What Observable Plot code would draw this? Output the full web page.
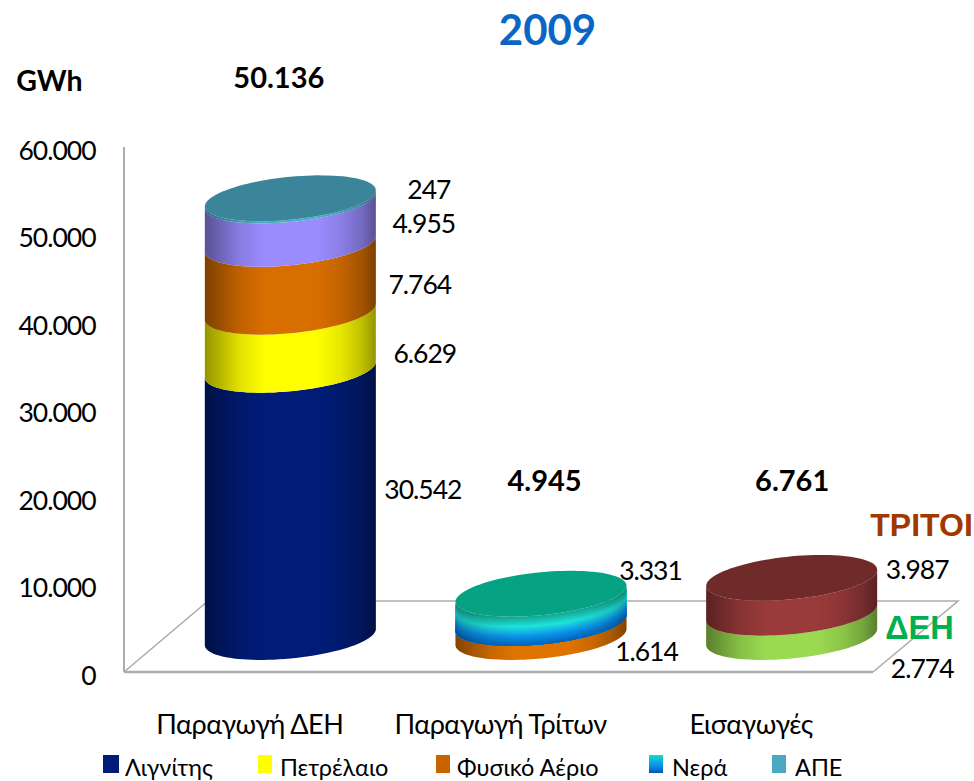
<!DOCTYPE html>
<html>
<head>
<meta charset="utf-8">
<script src="https://cdn.jsdelivr.net/npm/d3@7"></script>
<script src="https://cdn.jsdelivr.net/npm/@observablehq/plot@0.6"></script>
<style>
html,body{margin:0;padding:0;background:#fff;overflow:hidden;width:974px;height:781px}
#legend{position:absolute;left:0;top:0;width:974px;height:781px;font-family:Lato,"Open Sans",sans-serif;font-size:23.5px;color:#000;pointer-events:none}
#legend i{position:absolute;top:755px;height:18px;display:block}
#legend span{position:absolute;top:753px;white-space:nowrap}
svg{position:absolute;left:0;top:0;letter-spacing:-1px}
svg g[font-weight="bold"]{letter-spacing:0}
svg g[aria-label="x-axis tick label"]{letter-spacing:-.5px}
</style>
</head>
<body>
<div id="chart"></div>
<div id="legend"></div>
<script>
// ---- data ----
const categories = ["Παραγωγή ΔΕΗ", "Παραγωγή Τρίτων", "Εισαγωγές"];
const rowCategory = ["Παραγωγή ΔΕΗ","Παραγωγή ΔΕΗ","Παραγωγή ΔΕΗ","Παραγωγή ΔΕΗ","Παραγωγή ΔΕΗ","Παραγωγή Τρίτων","Παραγωγή Τρίτων","Εισαγωγές","Εισαγωγές"];
const rowSeries = ["Λιγνίτης","Πετρέλαιο","Φυσικό Αέριο","Νερά ΔΕΗ","ΑΠΕ","Φυσικό Αέριο Τρίτων","Νερά","ΔΕΗ","ΤΡΙΤΟΙ"];
const rowValues = [30542, 6629, 7764, 4955, 247, 1614, 3331, 2774, 3987];
const totals = [50136, 4945, 6761];
const yTicks = [0, 10000, 20000, 30000, 40000, 50000, 60000];
const legendNames = ["Λιγνίτης", "Πετρέλαιο", "Φυσικό Αέριο", "Νερά", "ΑΠΕ"];

// ---- styles ----
const seriesDomain = ["Λιγνίτης","Πετρέλαιο","Φυσικό Αέριο","Νερά ΔΕΗ","ΑΠΕ","Φυσικό Αέριο Τρίτων","Νερά","ΔΕΗ","ΤΡΙΤΟΙ"];
const seriesColors = ["#001c78","#ffff00","#d86e00","#9a8cff","#4aaec8","#e07400","#1fe3dc","#9ada50","#9a3a3a"];
const capColors = ["#3a8599","#06a284","#702a2a"];
const waterStops = ["#12a68f","#1fe3dc","#0a8fe8","#0064b8"];
const labelNudges = [[173,-48],[175,-22],[170,-28],[174,-33],[179,-44],[146,-13],[150,-72],[171,9],[166,-60]];
const totalNudges = [[29,-155],[44,-148],[41,-132]];

const rows = rowValues.map((value,i)=>({category:rowCategory[i],series:rowSeries[i],value}));
let acc = {};
rows.forEach(r=>{acc[r.category]=(acc[r.category]||0); r.mid=acc[r.category]+r.value/2; acc[r.category]+=r.value;});

const fmt = d3.format(",");
const num = d => fmt(d).replace(/,/g,".");

// cylinder geometry (pixels)
const SHIFT_X = 41, SHIFT_Y = -35, SHEAR = 8, MINOR = 21.5;
function arc(cx,cy,a,from,to,n=48){
  const p=[];
  for(let k=0;k<=n;k++){
    const t=from+(to-from)*k/n;
    p.push([cx+a*Math.cos(t), cy-SHEAR*Math.cos(t)+MINOR*Math.sin(t)]);
  }
  return p;
}
function pathOf(pts){return "M"+pts.map(p=>p[0].toFixed(2)+","+p[1].toFixed(2)).join("L")+"Z";}
function segment(cx,a,lower,upper){
  return pathOf([...arc(cx,upper,a,Math.PI,0),...arc(cx,lower,a,0,Math.PI)]);
}

function cylinders(index,scales,values){
  const g=d3.create("svg:g");
  const bw=scales.x.bandwidth(), a=bw/2;
  const defs=g.append("defs");
  const lg=defs.append("linearGradient").attr("id","shade");
  [[0,.42],[.08,.3],[.2,.12],[.35,0],[.65,0],[.8,.1],[.92,.25],[1,.42]].forEach(([o,v])=>
    lg.append("stop").attr("offset",o).attr("stop-color","#000").attr("stop-opacity",v));
  const waterColor=d3.scaleLinear().domain([0,.35,.7,1]).range(waterStops);
  const tops={};
  for(const i of index){
    const r=rows[i];
    const cx=scales.x(r.category)+a+SHIFT_X;
    const y1=values.y1[i]+SHIFT_Y, y2=values.y2[i]+SHIFT_Y;
    if(r.series==="Νερά"){
      const n=28;
      for(let k=0;k<n;k++){
        g.append("path").attr("d",segment(cx,a,y1,y2+(y1-y2)*k/n)).attr("fill",waterColor((k+.5)/n));
      }
    } else {
      g.append("path").attr("d",segment(cx,a,y1,y2)).attr("fill",values.fill[i]);
    }
    g.append("path").attr("d",segment(cx,a,y1,y2)).attr("fill","url(#shade)").attr("fill-opacity",r.series==="Νερά"?0.5:1);
    tops[r.category]={cx,y:y2};
  }
  categories.forEach((c,j)=>{
    const t=tops[c];
    g.append("path").attr("d",pathOf(arc(t.cx,t.y,a,0,Math.PI*2,96))).attr("fill",capColors[j]);
  });
  return g.node();
}

function floor(index,scales,values,dim){
  const y0=scales.y(0), yT=scales.y(60000), x0=dim.marginLeft;
  const g=d3.create("svg:g").attr("fill","none").attr("stroke","#adadad");
  const depthX=84, depthY=-71, frontEnd=873;
  g.append("path").attr("stroke-width",2).attr("d",`M${x0},${yT}L${x0},${y0}`);
  g.append("path").attr("stroke-width",2.6).attr("d",`M${x0},${y0}L${frontEnd},${y0}`);
  g.append("path").attr("stroke-width",1.6).attr("d",`M${x0},${y0}L${x0+depthX},${y0+depthY}L${frontEnd+depthX+1},${y0+depthY}L${frontEnd},${y0}`);
  return g.node();
}

const note = (text,dx,dy,opts)=>Plot.text([text],{text:d=>d,frameAnchor:"top-left",dx,dy,textAnchor:"middle",lineAnchor:"middle",...opts});

const chart = Plot.plot({
  width:974, height:760,
  marginLeft:124, marginRight:98, marginTop:147, marginBottom:88,
  style:{fontFamily:'Lato,"Open Sans",sans-serif',background:"transparent",color:"#000",overflow:"visible"},
  x:{type:"band",domain:categories,paddingInner:.318,paddingOuter:.159,round:false,label:null},
  y:{domain:[0,60000],label:null},
  color:{domain:seriesDomain,range:seriesColors},
  marks:[
    floor,
    Plot.barY(rows,{x:"category",y:"value",fill:"series",order:null,render:cylinders}),
    Plot.axisY(yTicks,{tickSize:0,tickPadding:29,tickFormat:num,fontSize:26.5,dy:4,label:null,fill:"#000"}),
    Plot.axisX(categories,{tickSize:0,tickPadding:42,fontSize:27,label:null,fill:"#000"}),
    ...rows.map((r,i)=>Plot.text([r],{x:"category",y:"mid",text:d=>num(d.value),dx:labelNudges[i][0],dy:labelNudges[i][1],fontSize:26.5,fill:"#000"})),
    ...categories.map((c,i)=>Plot.text([totals[i]],{x:()=>c,y:d=>d,text:d=>num(d),dx:totalNudges[i][0],dy:totalNudges[i][1],fontSize:29,fontWeight:"bold",fill:"#000"})),
    note("2009",423,-116,{fontSize:42,fontWeight:"bold",fill:"#0b66c3"}),
    note("GWh",-75,-66,{fontSize:28.5,fontWeight:"bold",fill:"#000"}),
    note("ΤΡΙΤΟΙ",797,378,{fontSize:32,fontWeight:"bold",fill:"#a03800",fontFamily:"Liberation Sans"}),
    note("ΔΕΗ",795,481,{fontSize:32.5,fontWeight:"bold",fill:"#00b050",fontFamily:"Liberation Sans"})
  ]
});
document.getElementById("chart").appendChild(chart);

// legend below the chart
const legendSwatch = [103,258,436,649,772];
const legendWidth = [16,14,14,14,14];
const legendText = [125,280,457,672,795];
const legendFill = ["#001c78","#ffff00","#c86400","linear-gradient(#12e0c8,#0a8fe8 60%,#0058b0)","#4aaac4"];
const lg=document.getElementById("legend");
legendNames.forEach((n,i)=>{
  const sw=document.createElement("i");
  sw.style.left=legendSwatch[i]+"px"; sw.style.width=legendWidth[i]+"px"; sw.style.background=legendFill[i];
  lg.appendChild(sw);
  const s=document.createElement("span");
  s.style.left=legendText[i]+"px"; s.textContent=n;
  lg.appendChild(s);
});
</script>
</body>
</html>
